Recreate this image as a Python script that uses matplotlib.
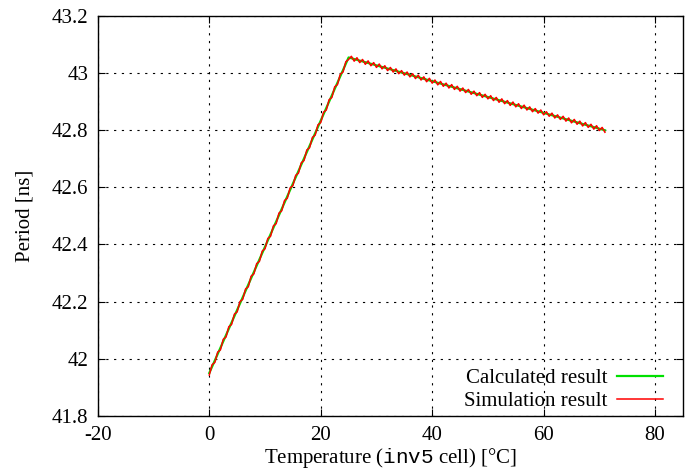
import matplotlib
matplotlib.use("Agg")
from matplotlib import pyplot as plt
from matplotlib.ticker import FuncFormatter

plt.rcParams['font.family'] = ['Liberation Serif', 'DejaVu Serif']
plt.rcParams['mathtext.fontset'] = 'custom'
plt.rcParams['mathtext.rm'] = 'Liberation Serif'
plt.rcParams['mathtext.tt'] = 'Liberation Mono'
plt.rcParams['axes.unicode_minus'] = False

# calculated result (piecewise linear)
calc_temp = [0, 25, 71]
calc_period = [41.95, 43.055, 42.80]

# simulation result, sampled every 0.5 degC
sim_temp = [i * 0.5 for i in range(143)]
sim_period = [
    41.943, 41.979, 41.987, 42.023, 42.031, 42.068, 42.076, 42.112, 42.120, 42.156,
    42.164, 42.200, 42.208, 42.244, 42.252, 42.289, 42.297, 42.333, 42.341, 42.377,
    42.385, 42.421, 42.429, 42.465, 42.473, 42.510, 42.518, 42.554, 42.562, 42.598,
    42.606, 42.642, 42.650, 42.686, 42.694, 42.731, 42.739, 42.775, 42.783, 42.819,
    42.827, 42.863, 42.871, 42.907, 42.915, 42.952, 42.960, 42.996, 43.004, 43.040,
    43.048, 43.059, 43.042, 43.054, 43.037, 43.048, 43.031, 43.043, 43.026, 43.037,
    43.020, 43.032, 43.015, 43.026, 43.009, 43.020, 43.004, 43.015, 42.998, 43.009,
    42.993, 43.004, 42.987, 42.998, 42.981, 42.993, 42.976, 42.987, 42.970, 42.982,
    42.965, 42.976, 42.959, 42.971, 42.954, 42.965, 42.948, 42.960, 42.943, 42.954,
    42.937, 42.948, 42.932, 42.943, 42.926, 42.937, 42.921, 42.932, 42.915, 42.926,
    42.910, 42.921, 42.904, 42.915, 42.898, 42.910, 42.893, 42.904, 42.887, 42.899,
    42.882, 42.893, 42.876, 42.888, 42.871, 42.882, 42.865, 42.876, 42.860, 42.871,
    42.854, 42.865, 42.849, 42.860, 42.843, 42.854, 42.838, 42.849, 42.832, 42.843,
    42.826, 42.838, 42.821, 42.832, 42.815, 42.827, 42.810, 42.821, 42.804, 42.816,
    42.799, 42.810, 42.793,
]

xticks = [-20, 0, 20, 40, 60, 80]
yticks = [41.8, 42.0, 42.2, 42.4, 42.6, 42.8, 43.0, 43.2]

fig = plt.figure(figsize=(6.99, 4.72), dpi=100)
ax = fig.add_axes([0.140, 0.119, 0.837, 0.847])

ax.plot(calc_temp, calc_period, color='#00e000', lw=1.6, label='Calculated result')
ax.plot(sim_temp, sim_period, color='#ff0000', lw=1.1, label='Simulation result')

ax.set_xlim(-20, 85)
ax.set_ylim(41.8, 43.2)
ax.set_xticks(xticks)
ax.set_yticks(yticks)
ax.yaxis.set_major_formatter(FuncFormatter(lambda v, p: '%g' % round(v, 2)))
ax.xaxis.set_major_formatter(FuncFormatter(lambda v, p: '%g' % v))
ax.tick_params(direction='in', length=5, width=0.8, top=True, right=True,
               labelsize=15, pad=7)
ax.grid(True, color='black', linestyle=(0, (2, 5)), linewidth=0.8)
for s in ax.spines.values():
    s.set_linewidth(1.0)

ax.set_xlabel(r'Temperature ($\mathtt{inv5}$ cell) [°C]', fontsize=15, labelpad=1)
ax.set_ylabel('Period [ns]', fontsize=15, labelpad=12)

leg = ax.legend(loc='lower right', frameon=False, markerfirst=False, fontsize=15,
                handlelength=2.2, handletextpad=0.45, labelspacing=0.15,
                borderpad=0, borderaxespad=0,
                bbox_to_anchor=(0.966, 0.012))

fig.savefig('out.png', dpi=100)
plt.close(fig)
